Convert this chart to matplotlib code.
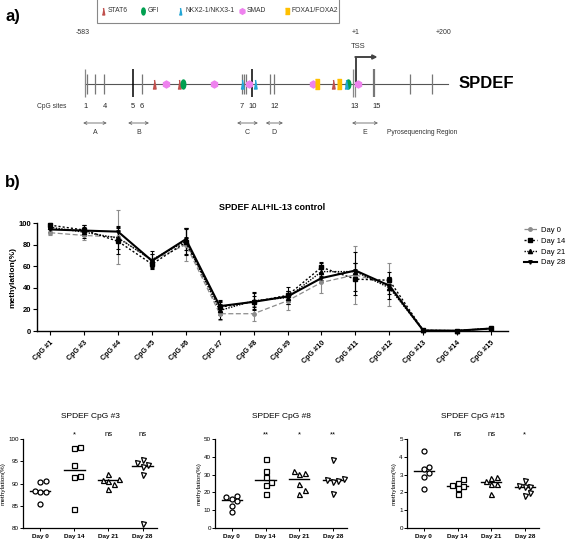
import numpy as np
import matplotlib
matplotlib.use("Agg")
import matplotlib.pyplot as plt
from matplotlib import transforms
from matplotlib.patches import Rectangle
from matplotlib.lines import Line2D

plt.rcParams["font.family"] = ["Liberation Sans", "DejaVu Sans"]

W, H = 566, 539

# ---- panel a: promoter map (positions in bp relative to TSS) ----
PROMOTER = (-583, 200)
CPG_POS = [-582, -579, -561, -541, -479, -459, -245, -241, -236, -222,
           -185, -175, -4, 0, 40, 117, 166]
CPG_STYLE = ["tall", "n", "n", "n", "black", "n", "n", "n", "n", "black",
             "n", "n", "tall", "tall", "thick", "n", "n"]
CPG_NUM_LABELS = ["1", "4", "5", "6", "7", "10", "12", "13", "15"]
CPG_NUM_POS = [-581, -540, -479, -460, -244, -221, -173, -1, 45]
REGIONS = ["A", "B", "C", "D", "E"]
REGION_START = [-587, -490, -255, -193, -7]
REGION_END = [-536, -445, -210, -156, 49]
STAT6_POS = [-434, -380, -48]
GFI_POS = [-372, -16]
NKX_POS = [-244, -216, -20]
SMAD_POS = [-408, -305, -229, -91, 6]
FOXA_POS = [-83, -35]

# ---- panel b: time course ----
CPG_LABELS = ["CpG #1", "CpG #3", "CpG #4", "CpG #5", "CpG #6", "CpG #7", "CpG #8",
              "CpG #9", "CpG #10", "CpG #11", "CpG #12", "CpG #13", "CpG #14", "CpG #15"]
DAYS = ["Day 0", "Day 14", "Day 21", "Day 28"]
DAY0_MEAN = [91, 88.5, 87, 65, 80, 16, 16, 28, 45, 52, 43, 0.5, 0.3, 2.0]
DAY14_MEAN = [98, 93.5, 83, 62, 82, 22, 27, 33, 59, 48, 47, 0.6, 0.3, 2.4]
DAY21_MEAN = [96, 91.5, 86, 66, 83, 19, 28, 31, 55, 55, 40, 0.5, 0.3, 2.5]
DAY28_MEAN = [94, 93, 92, 65, 85, 23, 27, 32, 49, 56, 42, 0.5, 0.3, 2.3]
DAY0_SD = [2, 4, 25, 6, 15, 6, 7, 9, 10, 27, 20, 0.3, 0.2, 0.5]
DAY14_SD = [2, 5, 12, 5, 12, 7, 8, 8, 5, 15, 8, 0.3, 0.2, 0.4]
DAY21_SD = [2, 5, 10, 8, 12, 8, 8, 6, 8, 18, 10, 0.3, 0.2, 0.4]
DAY28_SD = [2, 5, 5, 6, 10, 5, 5, 5, 4, 7, 8, 0.3, 0.2, 0.4]

# ---- panel b: single CpG scatter (6 replicates per day) ----
CPG3 = [[90.3, 90.5, 88.2, 88.2, 88.3, 85.5],
        [98.2, 97.9, 94.2, 91.7, 91.4, 84.3],
        [92.1, 90.8, 90.6, 90.9, 90.0, 88.8],
        [95.2, 94.5, 94.1, 93.7, 91.8, 80.8]]
CPG3_SIG = ["", "*", "ns", "ns"]
CPG8 = [[18.2, 16.1, 17.6, 15.0, 12.6, 8.9],
        [38.9, 31.9, 28.5, 25.9, 24.3, 19.1],
        [31.9, 30.6, 31.0, 25.0, 19.1, 21.3],
        [38.0, 27.4, 27.2, 26.5, 26.0, 19.2]]
CPG8_SIG = ["", "**", "*", "**"]
CPG15 = [[4.31, 3.44, 3.29, 3.07, 2.88, 2.19],
         [2.73, 2.55, 2.42, 2.35, 2.22, 1.91],
         [2.88, 2.81, 2.62, 2.50, 2.45, 1.90],
         [2.64, 2.34, 2.32, 2.30, 1.95, 1.77]]
CPG15_SIG = ["", "ns", "ns", "*"]

fig = plt.figure(figsize=(W / 100, H / 100), dpi=100)


def px_axes(l, t, r, b):
    return fig.add_axes([l / W, 1 - b / H, (r - l) / W, (b - t) / H])


# ================= panel a =================
bp_per_px = (PROMOTER[1] - PROMOTER[0]) / 363.0
ax_a = fig.add_axes([0, 1 - 145 / H, 1, 145 / H])
ax_a.set_xlim(PROMOTER[0] - 85 * bp_per_px, PROMOTER[0] + 481 * bp_per_px)
ax_a.set_ylim(145, 0)
ax_a.axis("off")
bl = transforms.blended_transform_factory(ax_a.transAxes, ax_a.transData)

gy = 84
ax_a.plot(PROMOTER, [gy, gy], color="#555555", lw=0.8)
for pos, st in zip(CPG_POS, CPG_STYLE):
    if st == "black":
        ax_a.vlines(pos, gy - 15, gy + 13, color="black", lw=1.1)
    elif st == "thick":
        ax_a.vlines(pos, gy - 15, gy + 13, color="#777777", lw=1.6)
    elif st == "tall":
        ax_a.vlines(pos, gy - 15, gy + 13, color="#888888", lw=0.9)
    else:
        ax_a.vlines(pos, gy - 10, gy + 10, color="#777777", lw=0.9)

tri = [(-0.35, -1), (0.35, -1), (0, 1)]
ell = [(0.5 * np.cos(t), np.sin(t)) for t in np.linspace(0, 2 * np.pi, 30)]
rect = [(-0.55, -1), (0.55, -1), (0.55, 1), (-0.55, 1)]
motifs = [("STAT6", STAT6_POS, tri, "#c0504d"),
          ("GFI", GFI_POS, ell, "#00a050"),
          ("NKX2-1/NKX3-1", NKX_POS, tri, "#23a6d5"),
          ("SMAD", SMAD_POS, "h", "#ee82ee"),
          ("FOXA1/FOXA2", FOXA_POS, rect, "#ffc000")]
for name, pos, mk, col in motifs:
    ms = 5 if mk == "h" else 6.5
    ax_a.plot(pos, [gy] * len(pos), ls="none", marker=mk, ms=ms, color=col,
              mec=col, zorder=3)

# legend box
ax_a.add_patch(Rectangle((97 / W, -2), (339 - 97) / W, 25, transform=bl,
                         fill=False, ec="#888888", lw=0.8))
leg_x = [103, 143, 180, 242, 287]
for (name, pos, mk, col), lx in zip(motifs, leg_x):
    ms = 4 if mk == "h" else 5
    ax_a.plot([lx / W], [11], transform=bl, marker=mk, ms=ms, color=col,
              mec=col, ls="none")
    ax_a.text((lx + 5) / W, 11, name, transform=bl, fontsize=4.9,
              va="center", ha="left", color="#333333")

ax_a.text(5 / W, 17, "a)", transform=bl, fontsize=12, fontweight="bold",
          va="center", ha="left")
ax_a.text(PROMOTER[0] - 5, 33, "-583", fontsize=5, ha="center", va="center",
          color="#333333")
ax_a.text(1, 33, "+1", fontsize=5, ha="center", va="center", color="#333333")
ax_a.text(PROMOTER[1] - 10, 33, "+200", fontsize=5, ha="center", va="center",
          color="#333333")
ax_a.text(6, 47, "TSS", fontsize=5.5, ha="center", va="center", color="#333333")
ax_a.plot([1, 1], [gy, 57], color="#444444", lw=1.4, solid_capstyle="butt")
ax_a.annotate("", xy=(48, 57), xytext=(0, 57),
              arrowprops=dict(arrowstyle="-|>", color="#444444", lw=1.4,
                              mutation_scale=6, shrinkA=0, shrinkB=0))
ax_a.text(PROMOTER[1] + 22, gy, "SPDEF", fontsize=12, fontweight="bold",
          ha="left", va="center")

ax_a.text(37 / W, 107, "CpG sites", transform=bl, fontsize=4.8, ha="left",
          va="center", color="#333333")
for lab, pos in zip(CPG_NUM_LABELS, CPG_NUM_POS):
    ax_a.text(pos, 107, lab, fontsize=5.4, ha="center", va="center",
              color="#222222")
for lab, s, e in zip(REGIONS, REGION_START, REGION_END):
    ax_a.annotate("", xy=(e, 123), xytext=(s, 123),
                  arrowprops=dict(arrowstyle="<->", color="#666666", lw=0.6,
                                  mutation_scale=5, shrinkA=0, shrinkB=0))
    ax_a.text((s + e) / 2, 132, lab, fontsize=5, ha="center", va="center",
              color="#333333")
ax_a.text(387 / W, 132, "Pyrosequencing Region", transform=bl, fontsize=4.8,
          ha="left", va="center", color="#333333")

# ================= panel b: time course =================
fig.text(5 / W, 1 - 182 / H, "b)", fontsize=12, fontweight="bold",
         ha="left", va="center")

ax = px_axes(37, 223, 508, 331)
x = np.arange(len(CPG_LABELS))
series = [("Day 0", DAY0_MEAN, DAY0_SD, "#8c8c8c", (0, (4, 2)), "o", 2.5, 0.9),
          ("Day 14", DAY14_MEAN, DAY14_SD, "black", (0, (1.5, 1.5)), "s", 3, 1.0),
          ("Day 21", DAY21_MEAN, DAY21_SD, "black", (0, (1, 1)), "^", 3, 1.0),
          ("Day 28", DAY28_MEAN, DAY28_SD, "black", "-", "v", 2.5, 1.5)]
handles = []
for lab, m, sd, col, ls, mk, ms, lw in series:
    eb = ax.errorbar(x, m, yerr=sd, color=col, ls=ls, lw=lw, marker=mk, ms=ms,
                     capsize=1.6, elinewidth=0.8, capthick=0.8, clip_on=False,
                     label=lab)
    handles.append(Line2D([], [], color=col, ls=ls, lw=lw, marker=mk, ms=ms))
ax.set_xlim(-0.39, 13.5)
ax.set_ylim(0, 100)
ax.set_yticks([0, 20, 40, 60, 80, 100])
ax.set_xticks(x)
ax.set_xticklabels(CPG_LABELS, rotation=45, ha="right", rotation_mode="anchor",
                   fontsize=5.2, fontweight="bold")
ax.tick_params(axis="x", length=3, width=0.8, pad=3)
ax.tick_params(axis="y", length=3, width=0.8, labelsize=5.5, pad=1)
for t in ax.get_yticklabels():
    t.set_fontweight("bold")
for s in ["top", "right"]:
    ax.spines[s].set_visible(False)
for s in ["left", "bottom"]:
    ax.spines[s].set_linewidth(1.0)
ax.set_ylabel("methylation(%)", fontsize=6, fontweight="bold", labelpad=2)
ax.set_title("SPDEF ALI+IL-13 control", fontsize=6.5, fontweight="bold", pad=9)
ax.legend(handles, [s[0] for s in series], loc="upper left",
          bbox_to_anchor=(1.02, 1.03), frameon=False, fontsize=5.5,
          handlelength=1.6, labelspacing=0.45, handletextpad=0.6)


# ================= panel b: single CpGs =================
def swarm(vals, px_x, px_y, diam=5.5):
    vals = np.asarray(vals, dtype=float)
    offs = np.zeros(len(vals))
    placed = []
    for i in np.argsort(vals):
        for k in [0, 1, -1, 2, -2, 3, -3]:
            dx = k * diam
            if all((dx - p) ** 2 + ((vals[i] - v) * px_y) ** 2 >= diam ** 2
                   for p, v in placed):
                break
        offs[i] = dx / px_x
        placed.append((dx, vals[i]))
    return offs


panels = [(23, 157, CPG3, CPG3_SIG, "SPDEF CpG #3", (80, 100), 5),
          (215, 347, CPG8, CPG8_SIG, "SPDEF CpG #8", (0, 50), 10),
          (407, 539, CPG15, CPG15_SIG, "SPDEF CpG #15", (0, 5), 1)]
markers = ["o", "s", "^", "v"]
for l, r, data, sig, title, ylim, step in panels:
    a = px_axes(l, 439, r, 528)
    xlim = (-0.5, 3.42)
    px_x = (r - l) / (xlim[1] - xlim[0])
    px_y = 89.0 / (ylim[1] - ylim[0])
    for i, vals in enumerate(data):
        off = swarm(vals, px_x, px_y)
        a.plot(i + off, vals, ls="none", marker=markers[i], ms=3.6, mfc="white",
               mec="black", mew=0.9, clip_on=False, zorder=3)
        med = np.median(vals)
        a.plot([i - 0.3, i + 0.3], [med, med], color="black", lw=1.0)
        if sig[i]:
            a.text(i, 1.05, sig[i], transform=a.get_xaxis_transform(),
                   fontsize=5.5, ha="center", va="center")
    a.set_xlim(*xlim)
    a.set_ylim(*ylim)
    a.set_yticks(np.arange(ylim[0], ylim[1] + step / 2, step))
    a.set_xticks(range(4))
    a.set_xticklabels(DAYS, fontsize=4.6, fontweight="bold")
    a.tick_params(axis="y", length=2, width=0.7, labelsize=4.5, pad=1)
    a.tick_params(axis="x", length=2, width=0.7, pad=2)
    for s in ["top", "right"]:
        a.spines[s].set_visible(False)
    for s in ["left", "bottom"]:
        a.spines[s].set_linewidth(0.9)
    a.set_ylabel("methylation(%)", fontsize=4.6, labelpad=2)
    a.set_title(title, fontsize=6, pad=15)

fig.savefig("out.png", dpi=100)
